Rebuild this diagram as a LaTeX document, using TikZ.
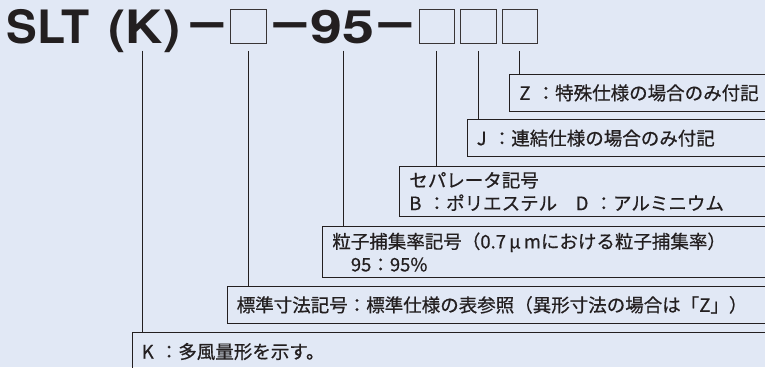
\documentclass[tikz,border=0pt]{standalone}
\usepackage{fontspec}
\newfontfamily\jpfont{Noto Sans CJK JP}[FakeBold=0.6]
\newfontfamily\ttlfont{TeX Gyre Heros}
\definecolor{bg}{RGB}{225,232,245}
\definecolor{ink}{RGB}{35,31,32}
\begin{document}
\begin{tikzpicture}[x=1pt,y=-1pt,
  lbl/.style={draw=ink, line width=1.1pt, anchor=north west, text=ink,
    font=\jpfont\fontsize{18.5}{23}\selectfont, align=left, text width=720pt,
    inner xsep=9.5pt, inner ysep=0pt},
  ttl/.style={text=ink, font=\ttlfont\bfseries\fontsize{46}{46}\selectfont,
    inner sep=0pt, anchor=base west},
  dsh/.style={ttl, anchor=base, xscale=1.55, yscale=1.15},
  slot/.style={draw=ink!90, line width=0.9pt, minimum width=35.3pt,
    minimum height=34pt, inner sep=0pt},
  lead/.style={draw=ink, line width=1pt}]
\useasboundingbox (0,0) rectangle (765,367);
\fill[bg] (0,0) rectangle (765,367);

% title
\node[ttl] (slt) at (6.5,43) {SLT};
\node[ttl, xscale=1.12] (kk) at (108.5,43) {(K)};
\node[dsh] (d1) at (207.5,38) {−};
\node[slot] (s1) at (248.3,26.3) {};
\node[dsh] (d2) at (290,38) {−};
\node[ttl, xscale=1.25] (n95) at (310,43) {95};
\node[dsh] (d3) at (395,38) {−};
\node[slot] (s2) at (436.8,26.3) {};
\node[slot] (s3) at (478.4,26.3) {};
\node[slot] (s4) at (519.8,26.3) {};

% description boxes
\node[lbl, minimum height=36.7pt] (zb) at (509.3,74) {Z ：特殊仕様の場合のみ付記};
\node[lbl, minimum height=36.7pt] (jb) at (466.7,119.3) {J ：連結仕様の場合のみ付記};
\node[lbl, minimum height=50pt] (sb) at (399.3,166) {セパレータ記号\\B ：ポリエステル　D ：アルミニウム};
\node[lbl, minimum height=51.6pt] (pb) at (322.3,225.7) {粒子捕集率記号（0.7\,μ\,mにおける粒子捕集率）\\　95：95\%};
\node[lbl, minimum height=36.7pt] (stb) at (226.7,286) {標準寸法記号：標準仕様の表参照（異形寸法の場合は「Z」）};
\node[lbl, minimum height=38pt] (kb) at (131.7,332) {K ：多風量形を示す。};

% leaders
\coordinate (ck) at (142.7,50.5);
\coordinate (c1) at ([yshift=-7pt]s1.south);
\coordinate (c95) at (343.3,50.5);
\coordinate (c2) at ([yshift=-7pt]s2.south);
\coordinate (c3) at ([yshift=-7pt]s3.south);
\coordinate (c4) at ([yshift=-7pt]s4.south);
\draw[lead] (ck) -- (ck |- kb.north);
\draw[lead] (c1) -- (c1 |- stb.north);
\draw[lead] (c95) -- (c95 |- pb.north);
\draw[lead] (c2) -- (c2 |- sb.north);
\draw[lead] (c3) -- (c3 |- jb.north);
\draw[lead] (c4) -- (c4 |- zb.north);
\end{tikzpicture}
\end{document}
